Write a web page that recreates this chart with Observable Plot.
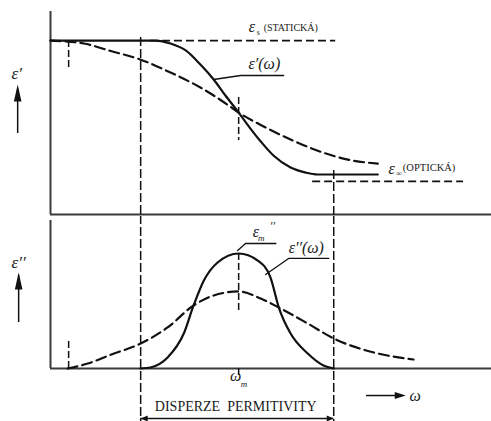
<!DOCTYPE html>
<html><head><meta charset="utf-8">
<script src="https://cdn.jsdelivr.net/npm/d3@7"></script>
<script src="https://cdn.jsdelivr.net/npm/@observablehq/plot@0.6"></script>
<style>
body{margin:0;background:#fff}
#chart svg{display:block}
#chart svg text{font-family:"Liberation Serif","Times New Roman",serif !important}
</style>
</head><body><div id="chart"></div>
<script>
// x: log10(ω/ω_m) in decades; top y: ε' (arb. units); bottom y: ε'' (arb. units)
const xDomain = [-3.84, 5.16];
const epsRealDomain = [0, 11.67];
const epsImagDomain = [0, 12.87];

const epsRealSharp = [[-3.84,10],[-2.82,10],[-1.69,10],[-1.39,9.83],[-1.08,9.43],[-0.78,8.62],[-0.51,7.76],[-0.27,6.84],[0,5.86],[0.24,4.94],[0.45,4.20],[0.71,3.39],[1.06,2.70],[1.37,2.41],[1.61,2.30],[2.84,2.30]];
const epsRealBroad = [[-3.84,10],[-3.16,9.83],[-2.61,9.40],[-2.0,8.90],[-1.39,8.16],[-0.78,7.30],[-0.22,6.30],[0,5.86],[0.45,5.15],[1.06,4.31],[1.73,3.55],[2.29,3.12],[2.84,2.93]];
const epsImagSharp = [[-2.0,0],[-1.80,0.09],[-1.45,0.96],[-1.12,3.04],[-0.92,5.48],[-0.71,7.65],[-0.43,9.22],[0,10],[0.39,9.39],[0.65,7.91],[0.82,5.30],[1.06,3.04],[1.41,1.30],[1.73,0.26],[1.94,0]];
const epsImagBroad = [[-3.49,0],[-3.08,0.43],[-2.61,1.20],[-2.0,2.17],[-1.45,3.57],[-0.92,5.48],[-0.51,6.35],[0,6.70],[0.45,6.09],[0.82,5.30],[1.41,3.91],[1.94,2.61],[2.76,1.39],[3.57,0.78]];

const epsStatic = 10, epsOptical = 1.90;
const dispersionBounds = [-2.0, 1.94];
const omegaM = 0;

// annotation anchors (data units)
const topGuides = [{x1:-1.8, x2:1.98, y:epsStatic},{x1:1.51, x2:4.59, y:epsOptical}];
const topTicks = [{x:-3.47, y1:10, y2:8.28},{x:omegaM, y1:6.72, y2:4.25}];
const topBounds = [{x:dispersionBounds[0], y1:10.17, y2:-0.3},{x:dispersionBounds[1], y1:2.53, y2:-0.3}];
const topLeader = [[0.92,7.99],[0.04,7.99],[-0.51,7.76]];
const topLabels = [
  {x:0.27, y:10.80, t:"ε", s:16, st:"italic", a:"middle"},
  {x:0.40, y:10.45, t:"s", s:8, st:"normal", a:"middle"},
  {x:0.51, y:10.75, t:"(STATICKÁ)", s:10, st:"normal", a:"start"},
  {x:0.20, y:8.68, t:"ε′(ω)", s:16, st:"italic", a:"start"},
  {x:3.12, y:2.64, t:"ε", s:16, st:"italic", a:"middle"},
  {x:3.27, y:2.36, t:"∞", s:8, st:"normal", a:"middle"},
  {x:3.35, y:2.70, t:"(OPTICKÁ)", s:10.5, st:"normal", a:"start"},
  {x:-4.53, y:8.10, t:"ε′", s:17, st:"italic", a:"middle"}
];
const topArrow = [{x:-4.51, y1:4.66, y2:7.2, tip:7.47}];

const botTicks = [{x:-3.47, y1:0, y2:2.61},{x:omegaM, y1:10, y2:4.87},{x:omegaM, y1:0, y2:-0.87}];
const botBounds = [{x:dispersionBounds[0], y1:13.3, y2:-4.6},{x:dispersionBounds[1], y1:13.3, y2:-4.6}];
const botLeaders = [[[0.76,10.87],[0.14,10.87],[-0.02,10.26]],[[1.84,9.57],[1.02,9.57],[0.55,8.17]]];
const botLabels = [
  {x:0.35, y:11.91, t:"ε", s:16, st:"italic", a:"middle"},
  {x:0.46, y:11.35, t:"m", s:9, st:"italic", a:"middle"},
  {x:0.69, y:12.35, t:"′′", s:12, st:"italic", a:"middle"},
  {x:1.02, y:10.52, t:"ε′′(ω)", s:16, st:"italic", a:"start"},
  {x:-0.06, y:-0.61, t:"ω", s:16, st:"italic", a:"middle"},
  {x:0.11, y:-1.39, t:"m", s:9, st:"italic", a:"middle"},
  {x:-0.06, y:-3.30, t:"DISPERZE  PERMITIVITY", s:14, st:"normal", a:"middle"},
  {x:3.60, y:-2.35, t:"ω", s:16, st:"italic", a:"middle"},
  {x:-4.49, y:9.22, t:"ε′′", s:17, st:"italic", a:"middle"}
];
const botArrowUp = [{x:-4.49, y1:4.0, y2:8.1, tip:8.35}];
const botArrowRight = [{x1:2.61, x2:3.25, tipX:3.41, y:-2.35}];
const bracket = [{x1:dispersionBounds[0], x2:dispersionBounds[1], y:-4.35}];

const ink = "#111", axisInk = "#3a3a3a", serif = "'Liberation Serif', 'Times New Roman', serif";

const headUp = {draw(ctx){ctx.moveTo(0,0);ctx.lineTo(-3.8,17);ctx.lineTo(3.8,17);ctx.closePath();}};
const headRight = {draw(ctx){ctx.moveTo(0,0);ctx.lineTo(-11,-3.5);ctx.lineTo(-11,3.5);ctx.closePath();}};
const headLeftSmall = {draw(ctx){ctx.moveTo(0,0);ctx.lineTo(7,-3);ctx.lineTo(7,3);ctx.closePath();}};
const headRightSmall = {draw(ctx){ctx.moveTo(0,0);ctx.lineTo(-7,-3);ctx.lineTo(-7,3);ctx.closePath();}};

const curve = (data, dashed) => Plot.line(data, {x:d=>d[0], y:d=>d[1], curve:"monotone-x", stroke:ink, strokeWidth:2.2, strokeDasharray: dashed ? "10,5" : null});
const labels = (data) => data.map(d => Plot.text([d], {x:"x", y:"y", text:"t", fontSize:d.s, fontStyle:d.st, textAnchor:d.a, fill:"#1a1a1a", fontFamily:serif}));

const topPanel = Plot.plot({
  width:491, height:216, marginLeft:50, marginRight:0, marginTop:11, marginBottom:2,
  x:{domain:xDomain, axis:null}, y:{domain:epsRealDomain, axis:null},
  style:{background:"#fff"},
  marks:[
    Plot.ruleX([xDomain[0]], {y1:epsRealDomain[0], y2:epsRealDomain[1], stroke:axisInk, strokeWidth:2}),
    Plot.ruleY([0], {x1:xDomain[0], x2:xDomain[1], stroke:axisInk, strokeWidth:2}),
    Plot.ruleY(topGuides, {x1:"x1", x2:"x2", y:"y", stroke:ink, strokeWidth:1.8, strokeDasharray:"8,4"}),
    Plot.ruleX(topTicks, {x:"x", y1:"y1", y2:"y2", stroke:ink, strokeWidth:1.5, strokeDasharray:"7,3"}),
    Plot.ruleX(topBounds, {x:"x", y1:"y1", y2:"y2", stroke:ink, strokeWidth:1.5, strokeDasharray:"9,3"}),
    curve(epsRealBroad, true),
    curve(epsRealSharp, false),
    Plot.line(topLeader, {x:d=>d[0], y:d=>d[1], stroke:ink, strokeWidth:1.3}),
    ...labels(topLabels),
    Plot.ruleX(topArrow, {x:"x", y1:"y1", y2:"y2", stroke:ink, strokeWidth:1.5}),
    Plot.dot(topArrow, {x:"x", y:"tip", symbol:headUp, fill:ink, stroke:null})
  ]
});

const bottomPanel = Plot.plot({
  width:491, height:205, marginLeft:50, marginRight:0, marginTop:4, marginBottom:53,
  x:{domain:xDomain, axis:null}, y:{domain:epsImagDomain, axis:null},
  style:{background:"#fff"},
  marks:[
    Plot.ruleX([xDomain[0]], {y1:epsImagDomain[0], y2:epsImagDomain[1], stroke:axisInk, strokeWidth:2}),
    Plot.ruleY([0], {x1:xDomain[0], x2:xDomain[1], stroke:axisInk, strokeWidth:2}),
    Plot.ruleX(botTicks, {x:"x", y1:"y1", y2:"y2", stroke:ink, strokeWidth:1.5, strokeDasharray:"7,3"}),
    Plot.ruleX(botBounds, {x:"x", y1:"y1", y2:"y2", stroke:ink, strokeWidth:1.5, strokeDasharray:"9,3"}),
    curve(epsImagBroad, true),
    curve(epsImagSharp, false),
    ...botLeaders.map(l => Plot.line(l, {x:d=>d[0], y:d=>d[1], stroke:ink, strokeWidth:1.3})),
    ...labels(botLabels),
    Plot.ruleX(botArrowUp, {x:"x", y1:"y1", y2:"y2", stroke:ink, strokeWidth:1.5}),
    Plot.dot(botArrowUp, {x:"x", y:"tip", symbol:headUp, fill:ink, stroke:null}),
    Plot.ruleY(botArrowRight, {x1:"x1", x2:"x2", y:"y", stroke:ink, strokeWidth:1.5}),
    Plot.dot(botArrowRight, {x:"tipX", y:"y", symbol:headRight, fill:ink, stroke:null}),
    Plot.ruleY(bracket, {x1:"x1", x2:"x2", y:"y", stroke:ink, strokeWidth:1.3}),
    Plot.dot(bracket, {x:"x1", y:"y", symbol:headLeftSmall, fill:ink, stroke:null}),
    Plot.dot(bracket, {x:"x2", y:"y", symbol:headRightSmall, fill:ink, stroke:null})
  ]
});

document.getElementById("chart").append(topPanel, bottomPanel);
</script>
</body></html>
